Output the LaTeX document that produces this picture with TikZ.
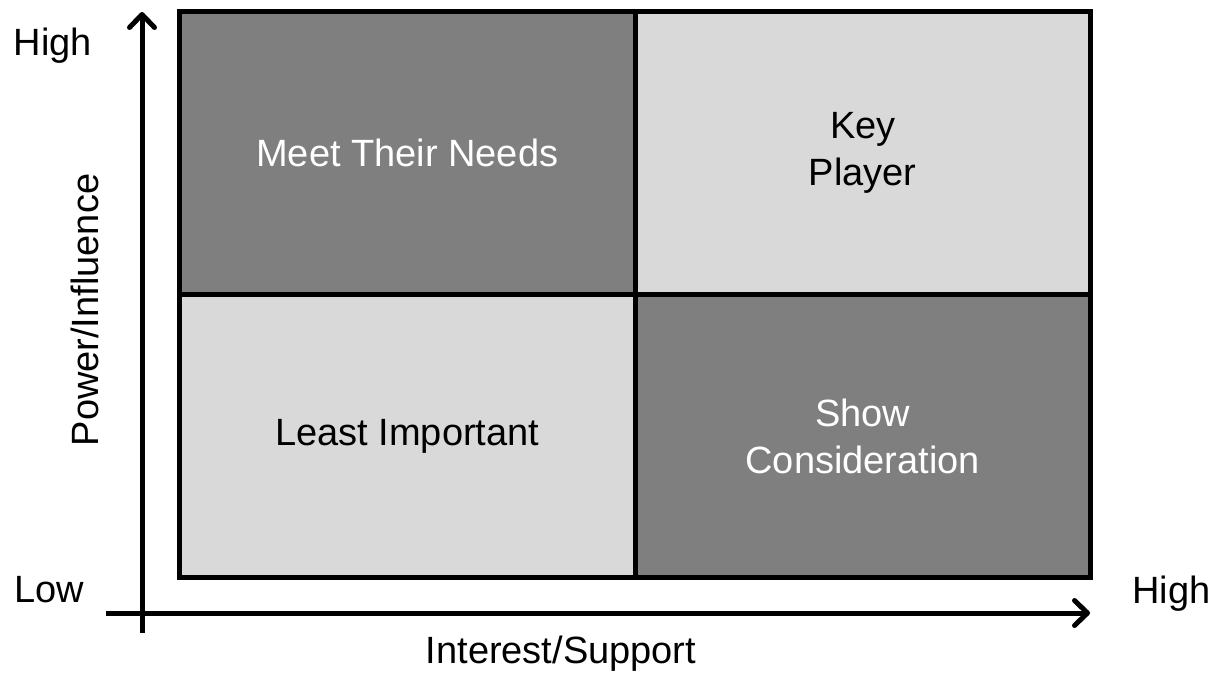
\documentclass[tikz,border=0pt]{standalone}
\usepackage{fontspec}
\setmainfont{Liberation Sans}
\usetikzlibrary{arrows.meta}
\definecolor{quaddark}{HTML}{7F7F7F}
\definecolor{quadlight}{HTML}{D9D9D9}
\begin{document}
\begin{tikzpicture}[x=1pt,y=-1pt,
  quad/.style={draw=black, line width=5pt, minimum width=455.5pt, minimum height=283pt,
    inner sep=0pt, align=center, font=\fontsize{38}{47}\selectfont},
  darkquad/.style={quad, fill=quaddark, text=white},
  lightquad/.style={quad, fill=quadlight, text=black},
  axis/.style={line width=5pt, -{Straight Barb[length=13pt,width=25pt,line cap=round,line join=round]}},
  axislabel/.style={font=\fontsize{38}{46}\selectfont, inner sep=0pt}]
  \useasboundingbox (0,0) rectangle (1222,673);
  % quadrants on a shared 2x2 grid
  \node[darkquad]  (tl) at (407.25,153.25) {Meet Their Needs};
  \node[lightquad] (tr) at (862.75,153.25) {Key\\Player};
  \node[lightquad] (bl) at (407.25,436.25) {Least Important};
  \node[darkquad]  (br) at (862.75,436.25) {Show\\Consideration};
  % axes
  \coordinate (ybot) at (142,633);
  \coordinate (ytop) at (142,12);
  \coordinate (xleft) at (106,613);
  \coordinate (xright) at (1090,613);
  \draw[axis] (ybot) -- (ytop);
  \draw[axis] (xleft) -- (xright);
  % axis labels
  \node[axislabel, anchor=base] (yhigh) at (53,55) {High};
  \node[axislabel, anchor=base] (ylow) at (49,602) {Low};
  \node[axislabel, anchor=base] (xhigh) at (1171.5,603) {High};
  \node[axislabel, anchor=base] (xname) at (561,663) {Interest/Support};
  \node[axislabel, anchor=base, rotate=90] (yname) at (98,310) {Power/Influence};
\end{tikzpicture}
\end{document}
